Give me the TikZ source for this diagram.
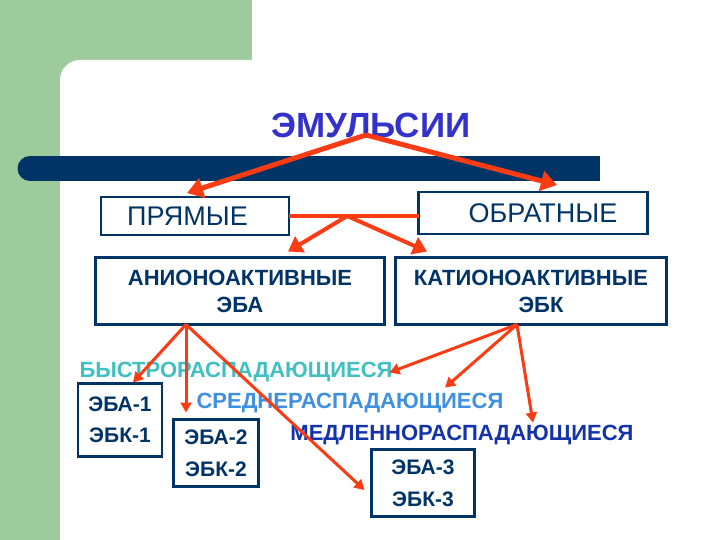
\documentclass[tikz,border=0pt]{standalone}
\usepackage{fontspec}
\setmainfont{Liberation Sans}
\usetikzlibrary{arrows.meta,calc}
\definecolor{leaf}{RGB}{158,203,155}
\definecolor{navy}{RGB}{0,51,102}
\definecolor{redarr}{RGB}{250,60,20}
\definecolor{titleblue}{RGB}{51,51,204}
\definecolor{fastcol}{RGB}{64,192,192}
\definecolor{midcol}{RGB}{64,144,224}
\definecolor{slowcol}{RGB}{20,50,170}

\begin{document}
\begin{tikzpicture}[x=1pt, y=-1pt, outer sep=0pt,
  box/.style={draw=navy, line width=2.5pt, text=navy, align=center, inner sep=0pt,
    font=\bfseries\fontsize{22}{27}\selectfont},
  lbl/.style={inner sep=0pt, anchor=base, font=\bfseries\fontsize{22}{25}\selectfont},
  bigarrow/.style={-{Triangle[length=16pt,width=20pt]}, draw=redarr, line width=5pt},
  midarrow/.style={-{Triangle[length=14pt,width=18pt]}, draw=redarr, line width=4pt},
  thinarrow/.style={-{Triangle[length=10pt,width=11pt]}, draw=redarr, line width=3pt},
  redline/.style={draw=redarr, line width=4pt}]

\useasboundingbox (0,0) rectangle (720,540);

% background
\fill[white] (0,0) rectangle (720,540);
\fill[leaf] (0,0) rectangle (252,80);
\fill[leaf] (0,0) rectangle (60,540);
\fill[white, rounded corners=20pt] (60,60) rectangle (760,580);
\fill[navy] (30,156) rectangle (600,181);
\fill[navy] (30,168.5) circle (12.5);

\node[anchor=base, text=titleblue, font=\bfseries\fontsize{35}{40}\selectfont] at (371,138) (title) {ЭМУЛЬСИИ};

\node[box, minimum width=188, minimum height=38, font=\fontsize{27}{30}\selectfont] at (195,216) (pr) {\kern-15pt ПРЯМЫЕ};
\node[box, minimum width=229, minimum height=42, font=\fontsize{27}{30}\selectfont] at (533,213) (ob) {ОБРАТНЫЕ\kern-20pt};

\node[box, minimum width=289, minimum height=67] at (240,291) (an) {АНИОНОАКТИВНЫЕ\\ЭБА};
\node[box, minimum width=271, minimum height=67] at (531,291) (kat) {КАТИОНОАКТИВНЫЕ\\\kern20pt ЭБК};

% types by rate
\node[lbl, text=fastcol] at (236,377) (fast) {БЫСТРОРАСПАДАЮЩИЕСЯ};
\node[lbl, text=midcol] at (350,408) (mid) {СРЕДНЕРАСПАДАЮЩИЕСЯ};
\node[lbl, text=slowcol] at (462,440) (slow) {МЕДЛЕННОРАСПАДАЮЩИЕСЯ};

\node[box, minimum width=84, minimum height=73, font=\bfseries\fontsize{21}{31}\selectfont] at (120,420) (b1) {ЭБА-1\\ЭБК-1};
\node[box, minimum width=85, minimum height=67, font=\bfseries\fontsize{21}{32}\selectfont] at (216,453) (b2) {ЭБА-2\\ЭБК-2};
\node[box, minimum width=103, minimum height=67, font=\bfseries\fontsize{21}{32}\selectfont] at (423,483) (b3) {ЭБА-3\\ЭБК-3};

% arrows
\coordinate (top) at ($(title.base)+(-5,-3)$);
\draw[bigarrow] (top) -- ($(pr.north)+(-8,-4)$);
\draw[bigarrow] (top) -- ($(ob.north)+(24,-7)$);

\draw[redline] (pr.east) -- (pr.east -| ob.west);
\coordinate (fork) at ($(pr.east)!0.45!(pr.east -| ob.west)$);
\draw[midarrow] (fork) -- ($(an.north)+(48,-6)$);
\draw[midarrow] (fork) -- ($(kat.north)+(-104,-6)$);

\coordinate (anfoot) at ($(an.south)+(-54,0)$);
\draw[thinarrow] (anfoot) -- ($(b1.north)+(13,-1)$);
\draw[thinarrow] (anfoot) -- ($(b2.north)+(-30,-7)$);
\draw[thinarrow] (anfoot) -- ($(b3.west)+(-7,7)$);

\coordinate (katfoot) at ($(kat.south)+(-14,0)$);
\draw[thinarrow] (katfoot) -- ($(fast.east)+(-3,1)$);
\draw[thinarrow] (katfoot) -- ($(mid.north)+(95,-5)$);
\draw[thinarrow] (katfoot) -- ($(slow.north)+(71,-2)$);

\end{tikzpicture}
\end{document}
